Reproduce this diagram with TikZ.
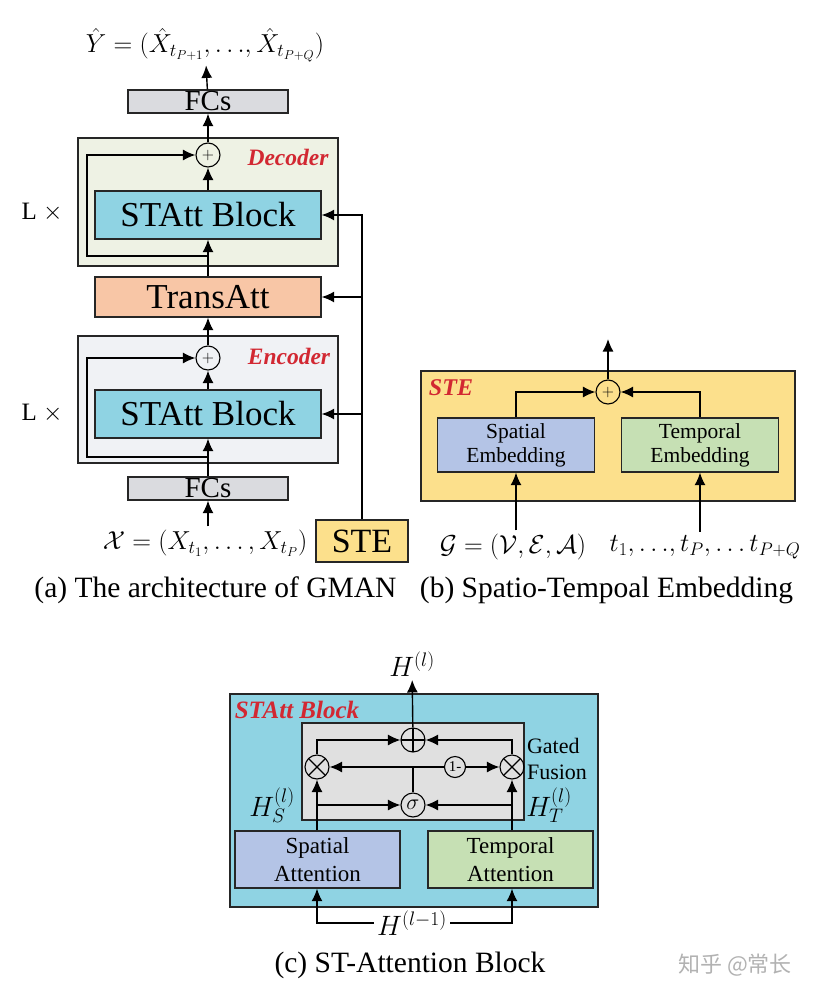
\RequirePackage{fix-cm}
\documentclass[tikz,border=0pt]{standalone}
\usepackage{fontspec}
\setmainfont{Liberation Serif}
\newfontfamily\cjk{Noto Sans CJK SC}
\usetikzlibrary{arrows.meta,positioning,calc}
\definecolor{decfill}{RGB}{238,242,228}
\definecolor{encfill}{RGB}{240,242,245}
\definecolor{blkcyan}{RGB}{143,211,227}
\definecolor{transfill}{RGB}{248,198,166}
\definecolor{fcgray}{RGB}{218,219,223}
\definecolor{steyellow}{RGB}{252,224,140}
\definecolor{spblue}{RGB}{180,196,230}
\definecolor{tmgreen}{RGB}{198,224,180}
\definecolor{gategray}{RGB}{224,224,224}
\definecolor{lblred}{RGB}{210,40,50}

\begin{document}
\begin{tikzpicture}[x=1pt,y=-1pt,
   box/.style={draw=black!85,line width=1.3pt,inner sep=0pt,align=center},
   blk/.style={box,fill=blkcyan,minimum width=226pt,minimum height=48pt,
               font=\fontsize{35}{40}\selectfont},
   fc/.style={box,fill=fcgray,minimum width=160pt,minimum height=23pt,
              font=\fontsize{29}{30}\selectfont},
   outer/.style={box,minimum width=260pt},
   emb/.style={box,minimum width=157pt,minimum height=54pt,
               font=\fontsize{21.5}{24}\selectfont},
   att/.style={box,minimum width=165pt,minimum height=57pt,
               font=\fontsize{23}{28}\selectfont},
   sumc/.style={circle,draw,line width=1.1pt,inner sep=0pt,minimum size=24pt,
                font=\fontsize{16}{16}\selectfont},
   opc/.style={circle,draw,line width=1.1pt,inner sep=0pt,minimum size=24pt},
   oplus/.style={opc,path picture={\draw[line width=1.1pt]
       (path picture bounding box.north) -- (path picture bounding box.south)
       (path picture bounding box.west) -- (path picture bounding box.east);}},
   otimes/.style={opc,path picture={\draw[line width=1.1pt]
       (path picture bounding box.north west) -- (path picture bounding box.south east)
       (path picture bounding box.south west) -- (path picture bounding box.north east);}},
   lbl/.style={text=lblred,font=\bfseries\itshape\fontsize{23.5}{24}\selectfont},
   mth/.style={font=\fontsize{26}{28}\selectfont},
   hlab/.style={font=\fontsize{28}{30}\selectfont},
   captxt/.style={font=\fontsize{29.5}{32}\selectfont},
   arr/.style={-{Latex[length=12.5pt,width=11pt]},line width=1.4pt}]
  \useasboundingbox (0,0) rectangle (820,993);

  % (a) architecture of GMAN
  \node[outer,fill=decfill,minimum height=128pt] (dec) at (208,202) {};
  \node[outer,fill=encfill,minimum height=127pt] (enc) at (208,399.5) {};
  \node[fc] (fcout) at (208,101.5) {FCs};
  \node[sumc] (decsum) at (208,155) {$+$};
  \node[blk] (decblk) at (208,215) {STAtt Block};
  \node[blk,fill=transfill,minimum height=40pt] (trans) at (208,297) {TransAtt};
  \node[sumc] (encsum) at (208,358) {$+$};
  \node[blk] (encblk) at (208,414) {STAtt Block};
  \node[fc] (fcin) at (208,488.5) {FCs};
  \node[box,fill=steyellow,minimum width=92pt,minimum height=42pt,
        font=\fontsize{34}{36}\selectfont] (ste) at (362,541) {STE};
  \node[lbl] (declbl) at (288,157) {Decoder};
  \node[lbl] (enclbl) at (289,356) {Encoder};
  \node[font=\fontsize{25}{26}\selectfont] (decrep) at (42,212) {L $\times$};
  \node[font=\fontsize{25}{26}\selectfont] (encrep) at (42,413) {L $\times$};
  \node[mth] (yout) at (205,45)
       {$\hat{Y}=(\hat{X}_{t_{P+1}},{\ldots},\hat{X}_{t_{P+Q}})$};
  \node[mth] (xin) at (205,543) {$\mathcal{X}=(X_{t_1},\dots,X_{t_P})$};
  \coordinate (decsplit) at (208,256);
  \coordinate (decleft) at (87,256);
  \coordinate (encsplit) at (208,457);
  \coordinate (encleft) at (87,457);

  \draw[arr] (xin.north -| fcin) -- (fcin);
  \draw[arr] (fcin) -- (encblk);
  \draw[arr] (encsplit) -- (encleft) |- (encsum);
  \draw[arr] (encblk) -- (encsum);
  \draw[arr] (encsum) -- (trans);
  \draw[arr] (trans) -- (decblk);
  \draw[arr] (decsplit) -- (decleft) |- (decsum);
  \draw[arr] (decblk) -- (decsum);
  \draw[arr] (decsum) -- (fcout);
  \draw[arr] (fcout) -- (yout);
  \draw[arr] (ste.north) |- (decblk.east);
  \draw[arr] (ste.north |- trans.east) -- (trans.east);
  \draw[arr] (ste.north |- encblk.east) -- (encblk.east);

  % (b) spatio-temporal embedding
  \node[box,fill=steyellow,minimum width=374pt,minimum height=130pt] (stebox) at (608,436) {};
  \node[sumc] (stesum) at (608,392) {$+$};
  \node[emb,fill=spblue] (semb) at (516,445) {Spatial\\Embedding};
  \node[emb,fill=tmgreen] (temb) at (700,445) {Temporal\\Embedding};
  \node[lbl,font=\bfseries\itshape\fontsize{24}{24}\selectfont] (stelbl) at (451,388) {STE};
  \node[mth] (ginp) at (513,547) {$\mathcal{G}=(\mathcal{V},\mathcal{E},\mathcal{A})$};
  \node[mth] (tinp) at (705,547) {$t_1,{\ldots},t_P,{\ldots}\,t_{P+Q}$};
  \coordinate (steout) at (608,339);
  \draw[arr] (semb.north) |- (stesum);
  \draw[arr] (temb.north) |- (stesum);
  \draw[arr] (stesum) -- (steout);
  \draw[arr] (ginp.north -| semb) -- (semb);
  \draw[arr] (tinp.north -| temb) -- (temb);

  \node[captxt] (capa) at (215.5,590) {(a) The architecture of GMAN};
  \node[captxt] (capb) at (606.5,590) {(b) Spatio-Tempoal Embedding};

  % (c) ST-attention block
  \node[box,fill=blkcyan,minimum width=368pt,minimum height=213pt] (attblk) at (414,800.5) {};
  \node[box,fill=gategray,minimum width=222pt,minimum height=97pt] (fusion) at (413,771.5) {};
  \node[lbl,font=\bfseries\itshape\fontsize{25}{26}\selectfont] (attlbl) at (297,710) {STAtt Block};
  \node[oplus] (plus) at (413,740) {};
  \node[otimes] (lmul) at (317,767) {};
  \node[otimes] (rmul) at (512,767) {};
  \node[sumc,minimum size=21pt,font=\fontsize{15}{15}\selectfont] (onem) at (455,767) {1-};
  \node[opc,font=\fontsize{22}{22}\selectfont] (sig) at (413,805) {$\sigma$};
  \node[att,fill=spblue] (sa) at (317.5,859.5) {Spatial\\Attention};
  \node[att,fill=tmgreen] (ta) at (510.5,859.5) {Temporal\\Attention};
  \node[hlab] (hl) at (412,664) {$H^{(l)}$};
  \node[hlab] (hlm) at (412,923) {$H^{(l-1)}$};
  \node[hlab] (hs) at (272,805) {$H_S^{(l)}$};
  \node[hlab] (ht) at (549,805) {$H_T^{(l)}$};
  \node[align=left,font=\fontsize{22}{26}\selectfont] (gate) at (557,759) {Gated\\Fusion};

  \draw[arr] (plus) -- (hl);
  \draw[arr] (lmul) |- (plus);
  \draw[arr] (rmul) |- (plus);
  \draw[arr] (sig.north) |- (lmul);
  \draw[line width=1.4pt] (sig.north) |- (onem);
  \draw[arr] (onem) -- (rmul);
  \draw[arr] (lmul |- sa.north) -- (lmul);
  \draw[arr] (rmul |- ta.north) -- (rmul);
  \draw[arr] (lmul |- sig) -- (sig);
  \draw[arr] (rmul |- sig) -- (sig);
  \draw[arr] (hlm) -| (lmul |- sa.south);
  \draw[arr] (hlm) -| (rmul |- ta.south);

  \node[captxt] (capc) at (410,965) {(c) ST-Attention Block};
  \node[text=black!30,font=\cjk\fontsize{22}{24}\selectfont] (mark) at (735,965) {知乎 @常长};
\end{tikzpicture}
\end{document}
